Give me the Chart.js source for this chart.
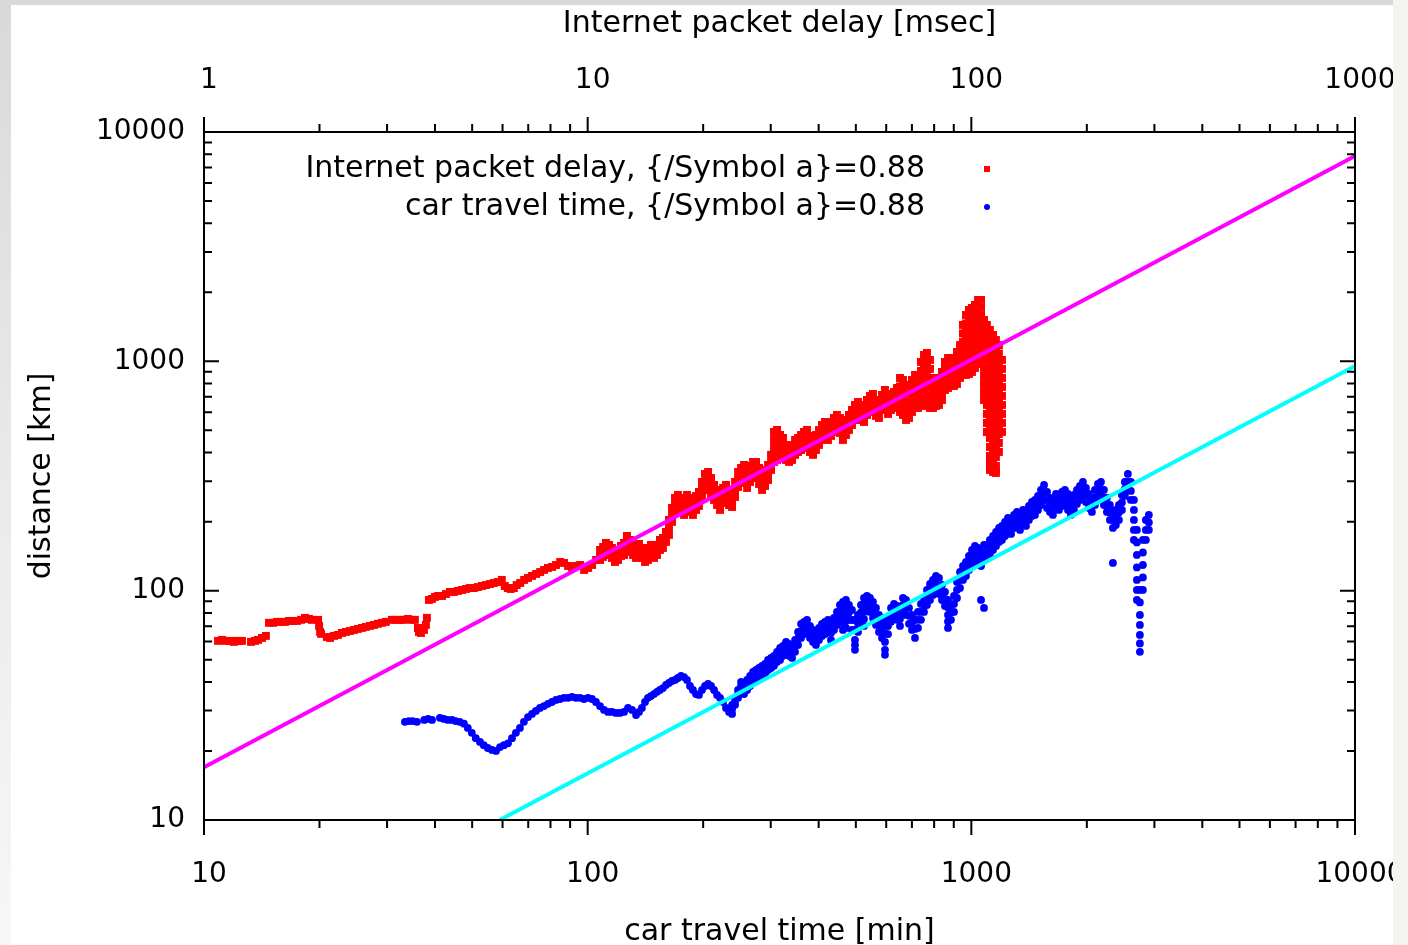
<!DOCTYPE html>
<html>
<head>
<meta charset="utf-8">
<script src="https://cdn.jsdelivr.net/npm/chart.js@4.4.1/dist/chart.umd.min.js"></script>
<style>
  html, body { margin: 0; padding: 0; }
  body {
    width: 1408px; height: 945px; overflow: hidden; position: relative;
    background: linear-gradient(to bottom, #d9d9d9 0%, #ebebeb 55%, #f7f7f7 100%);
  }
  #rightEdge { position: absolute; left: 1393px; top: 0; width: 15px; height: 945px; background: #f4f4f2; }
  #panel { position: absolute; left: 11px; top: 5px; width: 1382px; height: 940px; background: #ffffff; }
  canvas { display: block; }
</style>
</head>
<body>
<div id="rightEdge"></div>
<div id="panel"><canvas id="chart" width="1382" height="940"></canvas></div>
<script>
// Internet packet delay [msec]; each delay has one or more measured distances [km]
const packetDelay = [
  1.088,1.114,1.141,1.169,1.197,1.226,1.256,
  1.326,1.358,1.383,1.416,1.450,
  1.477,1.513,1.550,1.587,1.626,1.665,1.706,1.747,1.790,1.833,1.878,1.912,
  1.983,1.995,2.007,2.019,
  2.090,2.130,2.181,2.234,2.288,2.344,2.401,2.459,2.519,2.580,2.642,2.707,2.772,2.840,2.908,2.979,
  3.088,3.163,3.240,3.318,3.399,3.481,3.545,3.611,3.633,3.677,3.744,3.788,3.811,
  3.857,3.927,3.999,4.073,4.171,4.273,4.376,4.482,4.591,4.702,4.816,4.933,5.052,5.175,5.300,5.428,5.560,5.695,5.833,5.974,
  6.08,6.19,6.30,6.42,6.53,6.67,6.83,6.99,7.16,7.34,7.52,7.70,7.88,8.08,8.27,8.48,8.68,8.89,9.11,9.33,9.56,9.79,10.03,10.27,10.52,
  10.77,10.97,11.16,11.37,11.57,11.78,12.00,12.21,12.44,12.66,
  12.89,13.13,13.37,13.61,13.85,14.11,14.36,14.62,14.89,15.16,
  15.43,15.71,16.00,16.29,16.59,16.89,17.19,17.51,17.83,18.15,
  18.48,18.81,19.16,19.50,19.86,20.22,20.60,20.97,21.35,21.74,
  22.13,22.54,22.94,23.36,23.79,24.22,24.66,25.11,25.56,26.03,
  26.50,26.98,27.47,27.97,28.48,29.00,29.52,30.06,30.60,31.16,
  31.73,32.30,32.89,33.49,34.10,34.72,35.35,35.99,36.63,37.30,
  37.97,38.67,39.36,40.08,40.81,41.55,42.30,43.07,43.85,44.65,
  45.46,46.28,47.12,47.98,48.86,49.74,50.65,51.57,52.51,53.46,
  54.43,55.42,56.43,57.45,58.50,59.56,60.65,61.75,62.87,64.01,
  65.17,66.35,67.56,68.79,70.04,71.31,72.60,73.92,75.27,76.63,
  78.03,79.44,80.89,82.36,83.85,85.37,86.93,88.50,90.12,91.75,
  93.42,95.1,96.85,98.6,100.4,102.2,104.1,106.0,107.9,109.8,
  111.8,113.9,115.9,118.0,120.2
];
const packetDistance = [
  60.4,61.0,60.4,60.4,59.8,60.4,60.4,
  59.8,60.4,61.0,62.2,63.5,
  72.4,72.4,73.1,73.1,73.1,73.8,73.8,73.8,74.6,76.1,75.3,74.6,
  74.6,70.2,66.1,64.8,
  62.8,62.2,63.5,64.1,65.4,66.1,66.7,67.4,68.1,68.8,69.5,70.2,70.9,71.7,72.4,73.1,
  74.6,74.6,74.6,74.6,75.3,74.6,74.6,68.8,66.1,65.4,67.4,70.9,76.1,
  91.1,92.0,93.9,94.8,94.8,96.7,98.7,98.7,99.7,100.7,101.7,102.7,102.7,103.7,104.8,105.8,106.9,108.0,109.1,111.4,
  104.8,102.7,101.7,102.7,105.8,108.0,111.4,113.6,115.9,118.3,120.6,123.1,125.6,126.9,129.4,133.4,132.1,128.2,125.6,128.2,129.4,123.1,125.6,129.4,136.1,
  [150.5,143.1,136.1],[155.1,147.5,140.3],[161.5,153.6,146.0],[158.3,150.5,143.1],[153.5,146.0,138.9],[147.5,140.3,133.4],[150.5,143.1,136.1],[156.7,149.0,141.7],[161.5,152.0,143.1],[173.2,163.1,153.5],
  [166.4,156.7,147.5],[158.3,150.5,143.1],[153.5,146.0,138.9],[159.8,152.0,144.6],[153.5,146.0,138.9],[147.5,140.3,133.4],[153.5,144.5,136.1],[158.3,150.5,143.1],[153.5,146.0,138.9],[158.3,150.5,143.1],
  [166.4,158.3,150.5],[169.8,161.5,153.5],[180.3,171.5,163.1],[203.4,188.7,175.0],[229.4,213.9,199.4],[253.7,236.4,220.4],[261.4,244.9,229.4],[253.7,236.4,220.4],[248.6,230.6,213.9],[261.4,244.9,229.4],
  [253.7,236.4,220.4],[248.6,230.6,213.9],[258.8,241.3,224.9],[269.4,251.1,234.1],[297.9,277.7,258.8],[322.8,297.9,274.9],[329.3,303.9,280.4],[310.0,284.7,261.4],[289.0,268.0,248.6],[274.9,254.9,236.4],
  [264.1,243.7,224.9],[280.4,260.1,241.2],[289.0,268.0,248.6],[274.9,254.9,236.4],[269.4,249.9,231.7],[297.9,276.3,256.2],[329.3,305.4,283.3],[342.8,317.9,294.9],[353.3,327.7,303.9],[336.0,306.9,280.4],
  [349.8,322.8,297.9],[364.1,336.0,310.0],[364.1,336.0,310.0],[342.8,316.3,291.9],[319.6,296.4,274.9],[336.0,310.0,286.1],[353.3,327.7,303.9],[391.0,362.5,336.0],[492.0,454.0,419.0,390.6,364.1],[502.0,465.6,431.9,400.6,371.5],
  [477.4,442.8,410.7],[463.2,425.6,391.0],[431.9,400.6,371.5],[419.0,390.6,364.1],[431.9,400.6,371.5],[454.1,421.4,391.0],[463.2,431.8,402.5],[477.4,442.8,410.7],[492.0,454.0,419.0],[502.0,463.3,427.6],
  [472.7,436.2,402.5],[454.1,421.4,391.0],[477.4,442.8,410.7],[502.0,465.6,431.9],[527.8,489.6,454.1],[544.0,504.5,467.9],[522.6,487.1,454.1],[544.0,507.1,472.7],[566.3,527.8,492.0],[583.6,541.3,502.0],
  [566.3,525.2,487.1],[527.8,489.6,454.1],[555.0,514.7,477.4],[583.6,541.3,502.0],[613.7,569.1,527.8],[645.3,598.5,555.0],[665.0,613.7,566.3],[645.3,598.5,555.0],[626.1,583.6,544.0],[678.5,629.3,583.6],
  [706.3,651.8,601.5],[720.7,665.0,613.7],[678.5,626.1,577.8],[665.0,613.7,566.3],[713.5,661.7,613.7],[750.2,692.3,638.8],[692.3,638.8,589.5],[720.7,665.0,613.7],[735.3,678.5,626.1],[765.3,706.3,651.8],
  [846.3,777.1,713.5,655.1,601.5],[829.4,757.8,692.3,635.6,583.6],[788.8,724.2,665.0,607.5,555.0],[788.8,724.2,665.0,613.7,566.3],[829.4,765.4,706.3,651.8,601.5],[872.2,800.8,735.3,678.5,626.1],[846.3,781.0,720.7,671.7,626.1],[993.8,907.9,829.4,757.8,692.3],[1066,978.9,898.9,821.2,750.2,692.3,638.8],[1088,998.9,917.1,837.8,765.3,702.7,645.3],
  [1014,926.4,846.3,773.1,706.3,665.0,626.1],[846.3,781.0,720.7,671.7,626.1],[829.4,773.1,720.7,678.5,638.8],[846.3,788.8,735.3,688.8,645.3],[898.9,829.4,765.3,720.6,678.5],[993.8,926.3,863.5,804.8,750.2],[1034,964.1,898.9,829.4,765.3],[1034,964.1,898.9,837.8,780.9],[1034,964.1,898.9,837.8,780.9],[1099,1014,935.7,863.4,796.7],
  [1178,1082,993.8,917.1,846.3],[1441,1323,1214,1120,1034,954.4,881.0],[1593,1463,1343,1239,1143,1055,974.1,921.7,872.2],[1675,1545,1426,1316,1214,1120,1034,954.4,881.0],[1709,1577,1455,1343,1239,1143,1055,973.8,898.9],[1761,1633,1515,1398,1290,1191,1099,1014,935.7],[1852,1709,1577,1455,1343,1239,1143,1055,974.1],[1852,1709,1577,1455,1343,1239,1143],[1515,1398,1290,1191,1099,1014,935.7,863.4,796.7,735.2,678.5],[1441,1323,1214,1110,1014,926.4,846.3,773.1,706.3,645.3,589.5,538.5,492.0],
  [1370,1251,1143,1044,954.7,872.1,796.7,727.9,665.0,607.5,555.0,507.0,463.2,423.2,386.7,360.5,336.0],
  [1303,1197,1099,1004,917.1,837.8,765.3,699.2,638.8,583.6,533.2,487.2,445.1,406.6,371.5,349.8,329.3],
  [1239,1132,1034,944.9,863.5,788.9,720.7,658.4,601.5,549.5,502.0,458.6,419.0,382.8,349.8,337.7,326.0],
  [1178,1082,993.8,907.9,829.4,757.8,692.3,632.5,577.8,527.8,482.2,440.6,402.5],
  [1014,926.4,846.3,773.1,706.3,645.3,589.5,538.5,492.0]
];

// car travel time [min]; each time has one or more measured distances [km]
const travelTime = [
  33.4,34.2,35.0,35.9,37.5,38.4,39.3,41.2,42.2,43.2,44.3,45.3,46.4,47.6,48.7,49.9,51.1,52.4,53.6,54.9,
  56.3,57.7,59.1,60.5,62.0,63.5,65.0,66.6,68.2,69.9,71.6,73.3,75.1,76.9,78.8,80.7,82.7,84.7,86.8,88.9,
  91.0,93.2,95.5,97.8,100.2,102.6,105.1,107.7,110.3,113.0,115.7,118.5,121.4,124.4,127.4,130.5,133.7,
  136.1,138.5,141.1,143.6,146.2,148.9,151.6,154.3,157.1,160.0,162.9,165.9,168.9,171.9,175.1,178.3,181.5,184.8,188.1,191.6,
  195.0,198.6,202.2,206.0,209.7,213.5,217.4,221.3,225.4,229.4,233.6,237.9,242.2,246.6,251.1,255.6,260.3,265.0,269.8,274.7,
  279.7,284.8,290.0,295.2,300.6,306.0,311.6,317.3,323.0,328.9,334.9,341.0,347.2,353.5,359.9,366.3,373.0,379.7,386.7,393.6,
  400.8,408.1,415.5,423.0,430.7,438.5,446.5,454.6,462.8,471.2,479.8,488.6,497.4,506.5,515.7,525.1,534.6,544.3,554.2,564.3,
  574.5,585.0,595.6,606.5,617.5,628.7,640.1,651.7,663.5,675.6,687.9,700.4,713.1,726.0,739.2,752.7,766.3,780.3,794.4,808.9,
  823.6,838.5,853.7,869.3,885.0,901.2,917.5,934.2,951.2,968.4,986.0,1004,1022,1041,1060,1079,1098,1118,1139,1160,
  1181,1202,1224,1246,1269,1292,1315,1339,1364,1388,1413,1439,1465,1492,1519,1547,1575,1603,1632,1662,
  1692,1723,1754,1786,1818,1851,1885,1919,1954,1989,2025,2062,2100,2138,2177,2216,2256,2297,2339,2381,
  2425,2469,2513,2559,2605,2653,2701,2750,2800,2850,2902
];
const travelDistance = [
  26.8,27.0,27.0,26.8,27.3,27.6,27.3,27.9,27.6,27.3,27.3,27.0,26.8,26.3,25.2,24.0,22.75,21.9,21.2,20.6,
  20.2,20.0,20.8,21.2,21.6,22.75,24.0,25.2,26.8,28.1,29.0,29.9,30.8,31.4,32.1,32.7,33.4,33.7,34.1,34.1,
  34.4,34.1,34.1,33.7,34.1,33.7,32.7,31.4,30.2,29.6,29.6,29.3,29.3,29.6,30.8,30.2,28.7,
  29.6,30.8,32.7,34.1,34.7,35.4,36.2,36.9,37.6,38.8,39.6,40.4,40.8,41.6,42.5,42.0,40.8,38.4,36.9,35.4,
  35.1,36.9,38.4,39.2,38.4,36.9,35.1,34.1,32.7,30.8,29.6,[29.0,30.4,31.8],[31.8,32.9,34.1],[34.1,35.5,36.9],[36.9,38.4,40.0],[38.4,36.9,35.4],[40.8,38.8,36.9],[42.5,40.4,38.4],[44.2,42.0,40.0],[45.1,42.9,40.8],
  [46.0,43.7,41.6],[47.0,44.7,42.5],[47.9,45.5,43.3],[49.9,47.4,45.1],[50.9,48.4,46.0],[52.0,49.4,47.0],[54.1,51.4,48.9],[56.3,53.0,49.9],[57.4,54.6,52.0],[59.8,56.3,53.0],[58.6,55.2,52.0],[57.4,54.1,50.9],[61.0,57.4,54.1],[66.1,61.9,58.0],[71.7,66.8,62.2],[73.1,68.8,64.7],[74.6,70.2,66.1],[70.2,66.1,62.2],[67.4,63.5,59.8],[66.1,61.9,58.0],
  [68.8,64.8,61.0],[71.7,67.5,63.5],[73.1,68.8,64.7],[74.6,70.2,66.1],[70.2,65.4,61.0],[76.0,71.6,67.4],[80.8,75.7,70.9],[86.6,80.4,74.6],[89.3,83.2,77.6,72.3,67.4],[91.1,84.9,79.2,73.8,68.8],[86.6,80.4,74.6],[82.4,74.5,67.4],[74.6,67.4,61.0,58.0,55.2],[78.4,72.0,66.1],[86.6,80.4,74.6],[92.9,86.6,80.8,75.3,70.2],[94.8,88.4,82.4],[92.9,86.6,80.8],[89.3,82.4,76.0],[84.1,77.2,70.9],
  [78.4,72.0,66.1],[74.6,68.1,62.2],[70.9,65.1,59.8,55.2,52.5],[76.0,70.1,64.7],[84.1,78.4,73.1],[87.5,81.5,76.0],[85.8,80.0,74.6],[80.8,75.3,70.2],[92.9,86.6,80.8],[91.1,84.5,78.4],[84.1,77.7,71.7],[78.4,72.7,67.4],[74.6,68.1,62.2],[80.8,74.6,68.8],[87.5,80.8,74.6],[92.9,86.6,80.8],[100.7,93.4,86.6],[107.0,98.7,91.1],[111.4,103.3,95.8],[115.9,107.0,98.7],
  [113.6,104.8,96.7],[105.9,98.2,91.1],[98.7,92.0,85.8],[91.1,84.5,78.4,73.4,68.8],[86.6,80.4,74.6],[94.8,87.5,80.8],[109.2,100.7,92.9],[120.7,111.4,102.8],[128.1,119.5,111.4],[133.4,124.3,115.9],[141.7,132.1,123.1],[150.5,140.3,130.7],[156.7,146.0,136.1],[153.5,143.1,133.4],[147.5,137.5,128.1,91.1],[158.3,146.8,136.1,84.1],[158.3,148.3,138.9],[166.4,155.1,144.6],[173.2,161.5,150.5],[180.3,168.1,156.7],
  [187.7,175.0,163.1],[191.5,178.5,166.4],[199.4,185.8,173.2],[207.5,193.4,180.3],[203.4,189.6,176.8],[213.9,200.4,187.7],[220.4,205.4,191.5],[213.9,198.4,184.0],[224.9,209.6,195.4],[220.4,205.4,191.5],[234.1,218.2,203.4],[243.7,227.2,211.8],[248.6,230.6,213.9],[258.8,241.3,224.9],[274.9,254.9,236.4],[289.0,268.0,248.6],[269.4,248.6,229.4],[253.7,236.4,220.4],[248.6,230.6,213.9],[264.1,246.1,229.4],
  [258.8,241.3,224.9],[269.4,251.1,234.1],[274.9,254.9,236.4],[264.1,243.7,224.9],[248.6,230.6,213.9],[261.4,242.5,224.9],[274.9,256.2,238.8],[286.1,266.7,248.6],[297.9,277.7,258.8],[280.4,261.4,243.7],[264.1,246.1,229.4],[253.7,236.4,220.4],[274.9,254.9,236.4],[291.9,272.1,253.7],[297.9,277.7,258.8],[274.9,254.9,236.4],[253.7,236.4,220.4],[236.4,219.3,203.4],[220.4,203.4,187.7,132.1],[224.9,208.6,193.4],
  [236.4,219.3,203.4],[261.4,242.5,224.9],[297.9,277.7,258.8],[322.8,297.9,274.9],[297.9,272.1,248.6],[248.6,224.9,203.4,184.0,166.4],[184.0,162.3,143.1,126.3,111.4,100.7,91.1],[100.7,88.9,78.4,70.9,64.1,58.9,54.1],[166.4,146.7,129.4,114.2,100.7],[203.4,184.0,166.4],[213.9,198.4,184.0]
];

// power-law fit lines (end points of each straight log-log segment)
const packetFitDelay = [1, 1000];
const packetFitDistance = [17.0, 7860];
const travelFitTime = [59, 10000];
const travelFitDistance = [10, 955];

// axis tick labels
const bottomTicks = [10, 100, 1000, 10000];
const topTicks = [1, 10, 100, 1000];
const leftTicks = [10, 100, 1000, 10000];

const labels = {
  packet: 'Internet packet delay, {/Symbol a}=0.88',
  travel: 'car travel time, {/Symbol a}=0.88',
  xBottom: 'car travel time [min]',
  xTop: 'Internet packet delay [msec]',
  y: 'distance [km]'
};

const FONT = '"DejaVu Sans", "Liberation Sans", sans-serif';
const pts = (xs, ys) => xs.flatMap((x, i) => [].concat(ys[i]).map(y => ({ x, y })));

// tick marks: major + minor per decade, x axes outward, y axes inward
const tickMarks = {
  id: 'tickMarks',
  afterDatasetsDraw(chart) {
    const { ctx, chartArea: a, scales } = chart;
    ctx.save();
    ctx.strokeStyle = '#000';
    ctx.lineWidth = 2;
    const eachTick = (scale, fn) => {
      const lo = Math.log10(scale.min), hi = Math.log10(scale.max);
      for (let e = Math.floor(lo); e <= Math.ceil(hi); e++) {
        for (let m = 1; m <= 9; m++) {
          const v = m * Math.pow(10, e);
          if (v < scale.min * 0.999 || v > scale.max * 1.001) continue;
          fn(scale.getPixelForValue(v), m === 1);
        }
      }
    };
    ctx.beginPath();
    eachTick(scales.x, (p, major) => { ctx.moveTo(p, a.bottom); ctx.lineTo(p, a.bottom + (major ? 15 : 8)); });
    eachTick(scales.x2, (p, major) => { ctx.moveTo(p, a.top); ctx.lineTo(p, a.top - (major ? 15 : 8)); });
    eachTick(scales.y, (p, major) => {
      const l = major ? 15 : 8;
      ctx.moveTo(a.left, p); ctx.lineTo(a.left + l, p);
      ctx.moveTo(a.right, p); ctx.lineTo(a.right - l, p);
    });
    ctx.stroke();
    ctx.strokeRect(a.left, a.top, a.right - a.left, a.bottom - a.top);
    ctx.restore();
  }
};

// key in the upper part of the plot: right-aligned text, marker to its right
const keyBox = {
  id: 'keyBox',
  afterDatasetsDraw(chart) {
    const { ctx } = chart;
    const textRight = 914, markX = 976;
    const rows = [
      { text: labels.packet, y: 164, color: '#ff0000', shape: 'rect' },
      { text: labels.travel, y: 202, color: '#0000ff', shape: 'circle' }
    ];
    ctx.save();
    ctx.font = '30px ' + FONT;
    ctx.textAlign = 'right';
    ctx.textBaseline = 'middle';
    rows.forEach(r => {
      ctx.fillStyle = '#000';
      ctx.fillText(r.text, textRight, r.y);
      ctx.fillStyle = r.color;
      if (r.shape === 'rect') ctx.fillRect(markX - 3, r.y - 3, 6, 6);
      else { ctx.beginPath(); ctx.arc(markX, r.y, 3, 0, Math.PI * 2); ctx.fill(); }
    });
    ctx.restore();
  }
};

const tickFont = { family: FONT, size: 28 };
const titleFont = { family: FONT, size: 30, lineHeight: 0.8 };

new Chart(document.getElementById('chart'), {
  type: 'scatter',
  data: {
    datasets: [
      { label: 'packet fit', data: pts(packetFitDelay, packetFitDistance), xAxisID: 'x2', yAxisID: 'y',
        showLine: true, borderColor: '#ff00ff', borderWidth: 4, pointRadius: 0, fill: false },
      { label: 'travel fit', data: pts(travelFitTime, travelFitDistance), xAxisID: 'x', yAxisID: 'y',
        showLine: true, borderColor: '#00ffff', borderWidth: 4, pointRadius: 0, fill: false },
      { label: labels.packet, data: pts(packetDelay, packetDistance), xAxisID: 'x2', yAxisID: 'y',
        pointStyle: 'rect', pointRadius: 5.6, borderWidth: 0, backgroundColor: '#ff0000' },
      { label: labels.travel, data: pts(travelTime, travelDistance), xAxisID: 'x', yAxisID: 'y',
        pointStyle: 'circle', pointRadius: 3.9, borderWidth: 0, backgroundColor: '#0000ff' }
    ]
  },
  options: {
    responsive: false,
    animation: false,
    devicePixelRatio: 1,
    layout: { padding: { left: 0, right: 38, top: 0, bottom: 0 } },
    plugins: { legend: { display: false }, tooltip: { enabled: false } },
    scales: {
      x: {
        type: 'logarithmic', position: 'bottom', min: 10, max: 10000,
        grid: { display: false, drawTicks: false }, border: { display: false },
        afterBuildTicks: s => { s.ticks = bottomTicks.map(v => ({ value: v })); },
        afterFit: s => { s.height = 125; s.paddingLeft = 0; s.paddingRight = 0; },
        ticks: { font: tickFont, color: '#000', padding: 38, maxRotation: 0, autoSkip: false, labelOffset: 5,
                 callback: v => String(v) },
        title: { display: true, text: labels.xBottom, font: titleFont, color: '#000', padding: { top: 0, bottom: 1 } }
      },
      x2: {
        type: 'logarithmic', position: 'top', min: 1, max: 1000,
        grid: { display: false, drawTicks: false }, border: { display: false },
        afterBuildTicks: s => { s.ticks = topTicks.map(v => ({ value: v })); },
        afterFit: s => { s.height = 127; s.paddingLeft = 0; s.paddingRight = 0; },
        ticks: { font: tickFont, color: '#000', padding: 34, maxRotation: 0, autoSkip: false, labelOffset: 5,
                 callback: v => String(v) },
        title: { display: true, text: labels.xTop, font: titleFont, color: '#000', padding: { top: 7, bottom: 0 } }
      },
      y: {
        type: 'logarithmic', position: 'left', min: 10, max: 10000,
        grid: { display: false, drawTicks: false }, border: { display: false },
        afterBuildTicks: s => { s.ticks = leftTicks.map(v => ({ value: v })); },
        afterFit: s => { s.width = 193; s.paddingTop = 0; s.paddingBottom = 0; },
        ticks: { font: tickFont, color: '#000', padding: 19, autoSkip: false, callback: v => String(v) },
        title: { display: true, text: labels.y, font: titleFont, color: '#000', padding: { top: 19, bottom: 0 } }
      }
    }
  },
  plugins: [tickMarks, keyBox]
});
</script>
</body>
</html>
